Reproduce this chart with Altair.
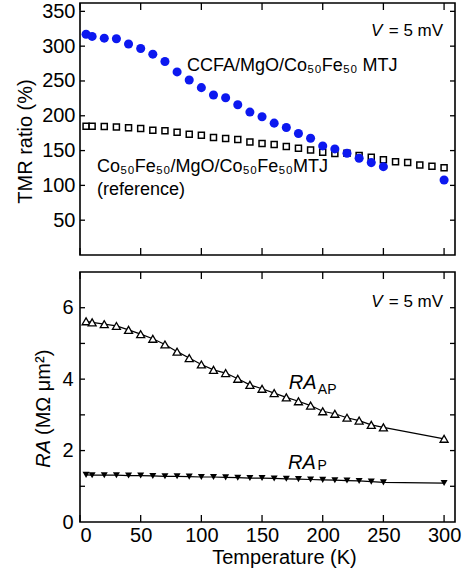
import altair as alt
import pandas as pd

FONT = "Liberation Sans"
BLUE = "#0c18f0"

# TMR ratio (%) of the CCFA/MgO/Co50Fe50 junction
temps_ccfa = [5, 10, 20, 30, 40, 50, 60, 70, 80, 90, 100, 110, 120, 130, 140,
              150, 160, 170, 180, 190, 200, 210, 220, 230, 240, 250, 300]
tmr_ccfa = [317, 314, 311.5, 310.6, 303, 296.6, 288.5, 278, 263, 251.4, 240.4,
            229.8, 226, 215.9, 205.3, 198.6, 189.4, 183.2, 174.5, 167.8, 156.7,
            152.4, 146.2, 139, 132.7, 126.9, 107.7]

# TMR ratio (%) of the Co50Fe50/MgO/Co50Fe50 reference junction
temps_ref = [5, 10, 20, 30, 40, 50, 60, 70, 80, 90, 100, 110, 120, 130, 140,
             150, 160, 170, 180, 190, 200, 210, 220, 230, 240, 250, 260, 270,
             280, 290, 300]
tmr_ref = [185, 185, 184.6, 184, 182.7, 181.7, 179.3, 178.4, 176.4, 173.6, 172,
           168.8, 167.3, 165.9, 162.5, 160, 158.7, 155.8, 153.4, 151, 147.6,
           145.7, 146, 142.8, 140.4, 137, 134, 132.7, 129.3, 127.4, 125.5]

# Resistance-area products (MOhm um^2)
temps_ra = [5, 10, 20, 30, 40, 50, 60, 70, 80, 90, 100, 110, 120, 130, 140,
            150, 160, 170, 180, 190, 200, 210, 220, 230, 240, 250, 300]
ra_ap = [5.62, 5.59, 5.54, 5.49, 5.38, 5.26, 5.13, 4.97, 4.77, 4.59, 4.41,
         4.26, 4.17, 4.01, 3.84, 3.73, 3.61, 3.49, 3.38, 3.26, 3.10, 3.03,
         2.92, 2.84, 2.72, 2.65, 2.33]
ra_p = [1.32, 1.31, 1.31, 1.31, 1.30, 1.30, 1.29, 1.28, 1.28, 1.27, 1.26,
        1.26, 1.25, 1.24, 1.23, 1.23, 1.22, 1.21, 1.20, 1.19, 1.18, 1.17,
        1.16, 1.15, 1.13, 1.11, 1.09]

x_ticks = [0, 50, 100, 150, 200, 250, 300]
tmr_ticks = [50, 100, 150, 200, 250, 300, 350]
ra_label_ticks = [0, 2, 4, 6]
ra_minor_ticks = [1, 2, 3, 4, 5, 6]

W, H_TOP, H_BOT = 375, 252, 250
x_scale = alt.Scale(domain=[0, 309], nice=False)
y_top = alt.Scale(domain=[0, 362], nice=False)
y_bot = alt.Scale(domain=[0, 7], nice=False)

df_ccfa = pd.DataFrame({"T": temps_ccfa, "val": tmr_ccfa})
df_ref = pd.DataFrame({"T": temps_ref, "val": tmr_ref})
df_ap = pd.DataFrame({"T": temps_ra, "val": ra_ap})
df_p = pd.DataFrame({"T": temps_ra, "val": ra_p})


def inner_ticks(x_vals, y_vals, height, x_axis):
    """Inward-pointing ticks on all four sides of a panel."""
    xt = pd.DataFrame({"T": x_vals})
    yt = pd.DataFrame({"val": y_vals})
    rule = dict(color="black", strokeWidth=1.3)
    top = alt.Chart(xt).mark_rule(**rule).encode(
        x=alt.X("T:Q", scale=x_scale, axis=x_axis), y=alt.value(0), y2=alt.value(7))
    bottom = alt.Chart(xt).mark_rule(**rule).encode(
        x=alt.X("T:Q", scale=x_scale, axis=x_axis), y=alt.value(height - 7), y2=alt.value(height))
    left = alt.Chart(yt).mark_rule(**rule).encode(
        y=alt.Y("val:Q"), x=alt.value(0), x2=alt.value(5))
    right = alt.Chart(yt).mark_rule(**rule).encode(
        y=alt.Y("val:Q"), x=alt.value(W - 5), x2=alt.value(W))
    return [top, bottom, left, right]


def label(text, x, y, size=18, italic=False, align="left"):
    return alt.Chart(pd.DataFrame({"T": [x], "val": [y], "txt": [text]})).mark_text(
        font=FONT, fontSize=size, fontStyle="italic" if italic else "normal",
        align=align, baseline="alphabetic", color="black",
    ).encode(x="T:Q", y="val:Q", text="txt:N")


# ---- upper panel: TMR ratio ----
top_y_axis = alt.Axis(values=tmr_ticks, ticks=False, tickSize=0, domain=False, grid=False,
                      labelPadding=5, title="TMR ratio (%)", titleX=-55, titleY=138,
                      titleBaseline="middle")

ref_pts = alt.Chart(df_ref).mark_point(
    shape="square", size=36, filled=True, fill="white", stroke="black",
    strokeWidth=1.5, opacity=1,
).encode(x=alt.X("T:Q", scale=x_scale, axis=None),
         y=alt.Y("val:Q", scale=y_top, axis=top_y_axis))

ccfa_pts = alt.Chart(df_ccfa).mark_point(
    shape="circle", size=82, filled=True, color=BLUE, opacity=1,
).encode(x=alt.X("T:Q", scale=x_scale, axis=None),
         y=alt.Y("val:Q", scale=y_top, axis=top_y_axis))

top_panel = alt.layer(
    ref_pts, ccfa_pts,
    *inner_ticks(x_ticks, tmr_ticks, H_TOP, None),
    label("V", 239.8, 314, size=17, italic=True),
    label("= 5 mV", 299.2, 314, size=17, align="right"),
    label("CCFA/MgO/Co₅₀Fe₅₀ MTJ", 88.2, 264.4),
    label("Co₅₀Fe₅₀/MgO/Co₅₀Fe₅₀MTJ", 14, 119.3),
    label("(reference)", 14, 86.6),
).properties(width=W, height=H_TOP)

# ---- lower panel: RA products ----
bot_x_axis = alt.Axis(values=x_ticks, ticks=False, tickSize=0, domain=False, grid=False,
                      labelPadding=3, title="Temperature (K)", titleX=204, titleY=41,
                      titleBaseline="alphabetic")
bot_y_axis = alt.Axis(values=ra_label_ticks, ticks=False, tickSize=0, domain=False,
                      grid=False, labelPadding=7, title=None)

ap_line = alt.Chart(df_ap).mark_line(color="black", strokeWidth=1.2).encode(
    x=alt.X("T:Q", scale=x_scale, axis=bot_x_axis),
    y=alt.Y("val:Q", scale=y_bot, axis=bot_y_axis))
p_line = alt.Chart(df_p).mark_line(color="black", strokeWidth=1.2).encode(
    x=alt.X("T:Q", scale=x_scale, axis=bot_x_axis),
    y=alt.Y("val:Q", scale=y_bot, axis=bot_y_axis))
ap_pts = alt.Chart(df_ap).mark_point(
    shape="triangle-up", size=64, filled=True, fill="white", stroke="black",
    strokeWidth=1.3, opacity=1,
).encode(x=alt.X("T:Q", scale=x_scale, axis=bot_x_axis),
         y=alt.Y("val:Q", scale=y_bot, axis=bot_y_axis))
p_pts = alt.Chart(df_p).mark_point(
    shape="triangle-down", size=49, filled=True, color="black", opacity=1,
).encode(x=alt.X("T:Q", scale=x_scale, axis=bot_x_axis),
         y=alt.Y("val:Q", scale=y_bot, axis=bot_y_axis))

# rotated y title with italic quantity symbol
ra_title_sym = alt.Chart(pd.DataFrame({"txt": ["RA"]})).mark_text(
    font=FONT, fontSize=20, fontStyle="italic", angle=270, align="right",
    baseline="middle", color="black",
).encode(x=alt.value(-36), y=alt.value(168), text="txt:N")
ra_title_unit = alt.Chart(pd.DataFrame({"txt": ["(MΩ μm²)"]})).mark_text(
    font=FONT, fontSize=20, angle=270, align="left", baseline="middle", color="black",
).encode(x=alt.value(-36), y=alt.value(163), text="txt:N")

bot_panel = alt.layer(
    ap_line, p_line, ap_pts, p_pts,
    *inner_ticks(x_ticks, ra_minor_ticks, H_BOT, bot_x_axis),
    label("V", 240, 6.02, size=17, italic=True),
    label("= 5 mV", 299.2, 6.02, size=17, align="right"),
    label("RA", 172, 3.73, size=20, italic=True),
    label("AP", 196, 3.59, size=14),
    label("RA", 171.4, 1.49, size=20, italic=True),
    label("P", 195.6, 1.45, size=14),
    ra_title_sym, ra_title_unit,
).properties(width=W, height=H_BOT)

chart = alt.vconcat(top_panel, bot_panel, spacing=13).properties(
    padding={"left": 14, "top": 0, "right": 0, "bottom": 0}
).configure_view(
    stroke="black", strokeWidth=1.6
).configure_axis(
    labelFont=FONT, labelFontSize=20, labelColor="black",
    titleFont=FONT, titleFontSize=20, titleFontWeight="normal", titleColor="black",
)

chart.save("out.html", embed_options={"renderer": "svg", "actions": False})
